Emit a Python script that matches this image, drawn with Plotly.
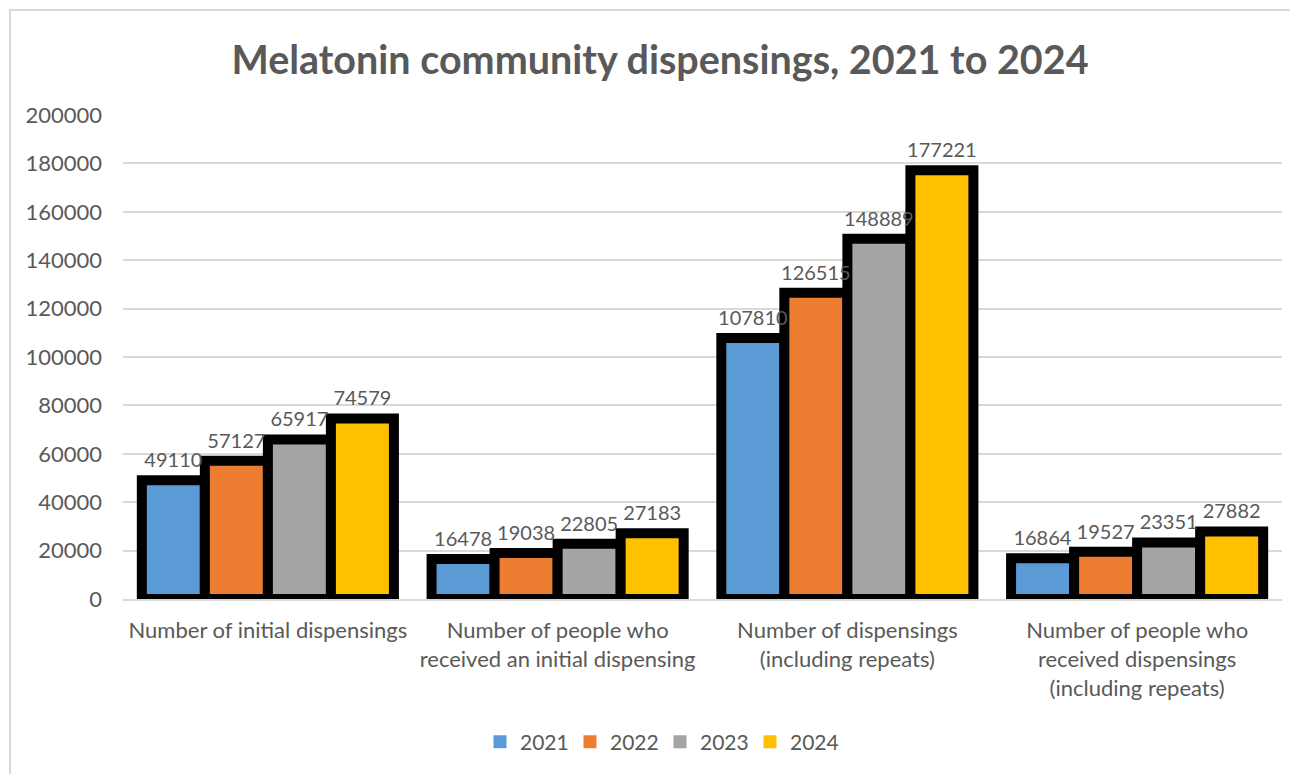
import plotly.graph_objects as go

categories = [
    "Number of initial dispensings",
    "Number of people who<br>received an initial dispensing",
    "Number of dispensings<br>(including repeats)",
    "Number of people who<br>received dispensings<br>(including repeats)",
]
years = ["2021", "2022", "2023", "2024"]
values = {
    "2021": [49110, 16478, 107810, 16864],
    "2022": [57127, 19038, 126515, 19527],
    "2023": [65917, 22805, 148889, 23351],
    "2024": [74579, 27183, 177221, 27882],
}
colors = {"2021": "#5B9BD5", "2022": "#ED7D31", "2023": "#A5A5A5", "2024": "#FFC000"}
y_ticks = [0, 20000, 40000, 60000, 80000, 100000, 120000, 140000, 160000, 180000, 200000]
y_range = [0, 200000]

# page body has an 8px margin: figure pixel = screen pixel - 8
OFF = 8
W, H = 1298 - OFF, 774 - OFF
L, R, T, B = 123 - OFF, 1298 - 1282, 115 - OFF, 774 - 599
pw, ph = W - L - R, H - T - B

FONT = "Lato"
TXT = "#595959"

fig = go.Figure()
# outlined bars
for yr in years:
    fig.add_trace(go.Bar(
        x=categories, y=values[yr], name=yr, offsetgroup=yr,
        marker=dict(color=colors[yr], line=dict(color="black", width=10)),
        showlegend=False, hoverinfo="skip",
    ))
# same bars, invisible, on an overlaid axis so value labels sit on top of all bars
label_tpl = ("<span style='font-size:20px'>%{text}</span>"
             "<br><span style='color:rgba(0,0,0,0)'>.</span>")
for yr in years:
    fig.add_trace(go.Bar(
        x=categories, y=values[yr], name=yr, offsetgroup=yr, yaxis="y2",
        marker=dict(color="rgba(0,0,0,0)", line=dict(color="rgba(0,0,0,0)", width=0)),
        text=[str(v) for v in values[yr]], texttemplate=label_tpl,
        textposition="outside", constraintext="none", cliponaxis=False,
        textfont=dict(family=FONT, size=7, color="#595959"),
        showlegend=False,
    ))
# legend entries (plain squares, no outline)
for yr in years:
    fig.add_trace(go.Scatter(
        x=[None], y=[None], mode="markers", name=yr,
        marker=dict(symbol="square", size=13, color=colors[yr]),
    ))

def px_x(p):
    return (p - OFF - L) / pw

def px_y(p):
    return (H - B - (p - OFF)) / ph

fig.add_shape(type="rect", xref="paper", yref="paper",
              x0=px_x(10), x1=px_x(1320), y0=px_y(800), y1=px_y(10),
              line=dict(color="#D9D9D9", width=2), fillcolor="rgba(0,0,0,0)", layer="below")

fig.update_layout(
    width=W, height=H,
    margin=dict(l=L, r=R, t=T, b=B, autoexpand=False),
    paper_bgcolor="white", plot_bgcolor="white",
    barmode="group", bargap=0.13, bargroupgap=0,
    title=dict(text="<b>Melatonin community dispensings, 2021 to 2024</b>",
               font=dict(family=FONT, size=39.5, color=TXT),
               x=(660 - OFF) / W, xref="container", xanchor="center",
               y=1 - (60 - OFF) / H, yref="container", yanchor="middle"),
    font=dict(family=FONT, color=TXT),
    legend=dict(orientation="h", xref="container", yref="container",
                x=(660 - OFF) / W, xanchor="center", y=1 - (742 - OFF) / H, yanchor="middle",
                font=dict(family=FONT, size=21, color=TXT),
                entrywidth=45, entrywidthmode="pixels", itemclick=False),
    xaxis=dict(showgrid=False, showline=True, linecolor="#D9D9D9", linewidth=2,
               tickfont=dict(family=FONT, size=22, color=TXT), ticks="",
               ticklabelstandoff=11),
    yaxis=dict(range=y_range, tickvals=y_ticks, ticktext=[str(v) for v in y_ticks],
               showgrid=True, gridcolor="#D9D9D9", gridwidth=2,
               zeroline=False, showline=False, ticks="",
               tickfont=dict(family=FONT, size=22, color=TXT),
               ticklabelstandoff=20),
    yaxis2=dict(range=y_range, overlaying="y", side="left", visible=False,
                showgrid=False, zeroline=False),
)

fig.write_html("out.html")
